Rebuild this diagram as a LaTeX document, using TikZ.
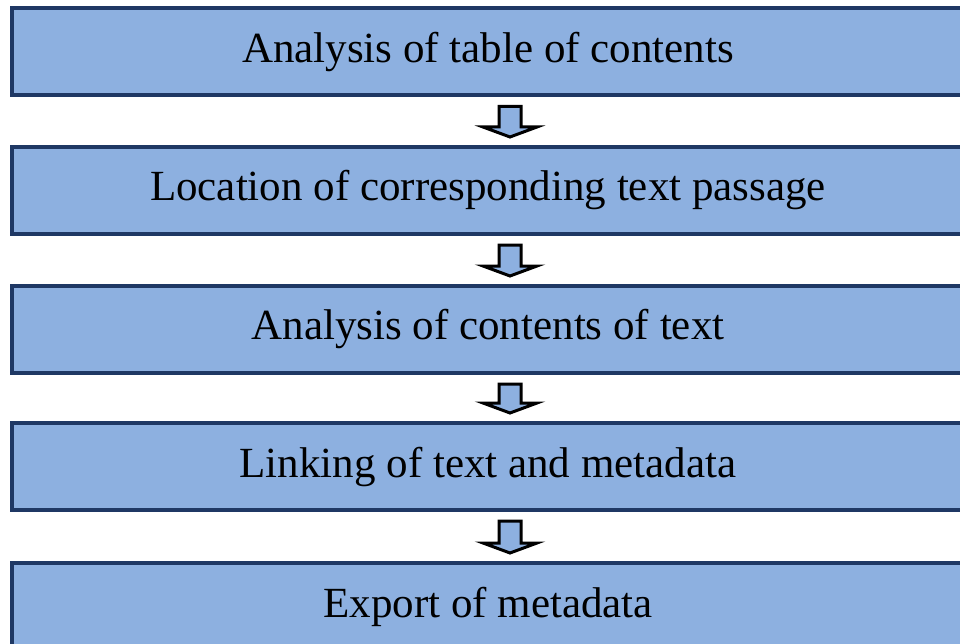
\documentclass[tikz,border=0pt]{standalone}
\usepackage{fontspec}
\setmainfont{Liberation Serif}
\usetikzlibrary{calc}
\definecolor{boxfill}{RGB}{141,176,224}
\definecolor{boxline}{RGB}{31,56,100}
\tikzset{
  stagebox/.style={draw=boxline, fill=boxfill, line width=4pt,
    minimum width=952pt, minimum height=87pt, inner sep=0pt,
    font=\fontsize{43}{50}\selectfont},
  blockarrow/.style={draw=black, fill=boxfill, line width=3pt, line join=miter}
}
% downward block arrow between two stacked boxes
\newcommand{\stagearrow}[2]{%
  \draw[blockarrow] let \p1=($(#1.south)+(22,9)$), \p2=($(#2.north)+(22,-8)$) in
    (\x1-11pt,\y1) -- (\x1+11pt,\y1) -- (\x1+11pt,\y2+10pt) -- (\x1+27pt,\y2+10pt)
    -- (\x1,\y2) -- (\x1-27pt,\y2+10pt) -- (\x1-11pt,\y2+10pt) -- cycle;}
\begin{document}
\begin{tikzpicture}[x=1pt, y=-1pt]
  \useasboundingbox (0,0) rectangle (960,644);
  \fill[white] (0,0) rectangle (960,644);
  \node[stagebox] (b1) at (488,52)    {Analysis of table of contents};
  \node[stagebox] (b2) at (488,190.5) {Location of corresponding text passage};
  \node[stagebox] (b3) at (488,329.5) {Analysis of contents of text};
  \node[stagebox] (b4) at (488,466.5) {Linking of text and metadata};
  \node[stagebox] (b5) at (488,606.5) {Export of metadata};
  \stagearrow{b1}{b2}
  \stagearrow{b2}{b3}
  \stagearrow{b3}{b4}
  \stagearrow{b4}{b5}
\end{tikzpicture}
\end{document}
